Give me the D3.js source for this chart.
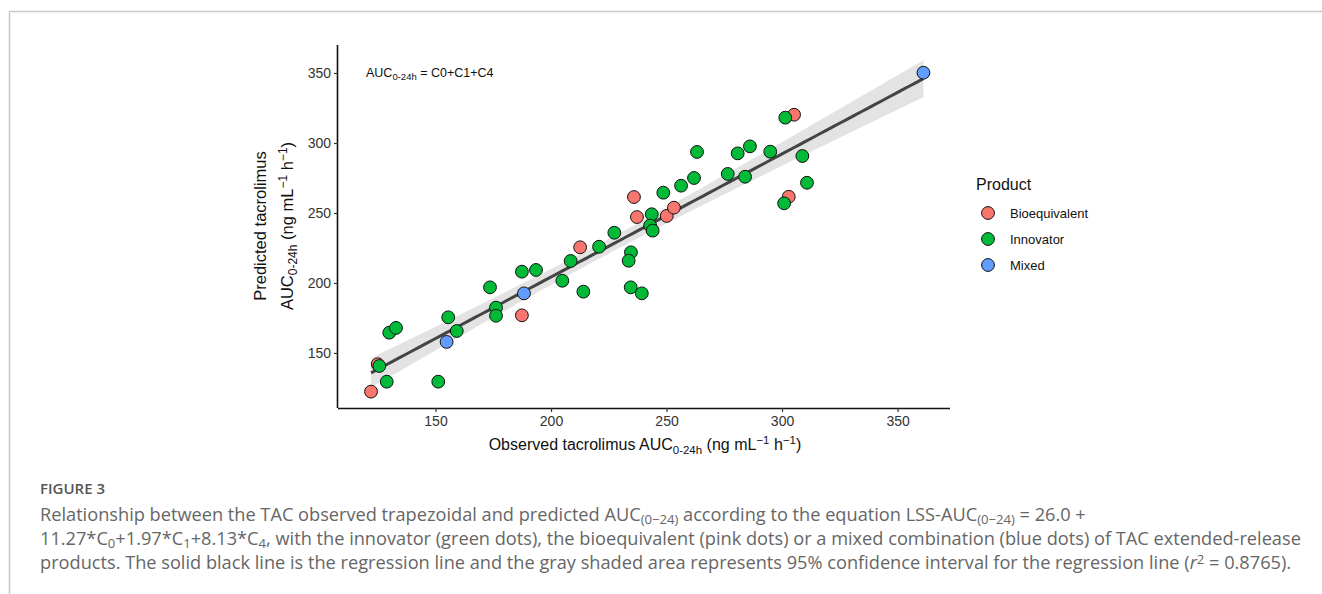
<!DOCTYPE html>
<html><head><meta charset="utf-8">
<script src="https://cdn.jsdelivr.net/npm/d3@7"></script>
<style>body{margin:0;background:#fff;}svg{display:block;}</style>
</head><body>
<script>
// ---- data ----
const products = ["Bioequivalent", "Innovator", "Mixed"];
const productColors = ["#F8766D", "#00BA38", "#619CFF"];
const observed = [122.1,125.0,187.4,212.6,235.9,237.2,250.1,253.2,302.9,305.2,
  125.7,128.9,130.0,132.9,151.2,155.5,159.2,173.6,176.2,176.2,187.4,193.5,204.9,208.5,214.0,220.8,227.4,234.6,233.6,234.5,239.3,
  243.6,242.9,244.0,248.6,256.3,261.9,263.2,276.5,280.8,284.0,286.1,294.9,300.9,301.4,308.8,310.8,
  154.8,188.3,361.2];
const predicted = [122.4,142.0,176.9,225.5,261.4,247.1,247.9,253.8,261.6,320.2,
  140.7,129.5,164.5,167.9,129.5,175.5,165.7,196.9,182.4,176.6,208.1,209.3,201.6,215.7,193.8,225.9,235.9,221.9,215.9,196.9,192.6,
  249.1,241.0,237.4,264.5,269.5,275.0,293.6,277.9,292.6,275.9,297.6,293.8,256.9,318.1,290.7,271.6,
  157.9,192.6,350.2];
const group = ["Bioequivalent","Bioequivalent","Bioequivalent","Bioequivalent","Bioequivalent","Bioequivalent","Bioequivalent","Bioequivalent","Bioequivalent","Bioequivalent",
  "Innovator","Innovator","Innovator","Innovator","Innovator","Innovator","Innovator","Innovator","Innovator","Innovator","Innovator","Innovator","Innovator","Innovator","Innovator","Innovator","Innovator","Innovator","Innovator","Innovator","Innovator",
  "Innovator","Innovator","Innovator","Innovator","Innovator","Innovator","Innovator","Innovator","Innovator","Innovator","Innovator","Innovator","Innovator","Innovator","Innovator","Innovator",
  "Mixed","Mixed","Mixed"];
const xTicks = [150, 200, 250, 300, 350];
const yTicks = [150, 200, 250, 300, 350];

(function(){
const W = 1322, H = 594;
const svg = d3.select("body").append("svg").attr("width", W).attr("height", H);
const FONT = "Liberation Sans, Arial, sans-serif";

// frame
svg.append("path").attr("d", `M9.5,${H} V11.5 H${W}`).attr("fill","none").attr("stroke","#c8c8c8").attr("stroke-width",1.5);

const pL = 338, pR = 950, pT = 45, pB = 408;
const x = d3.scaleLinear().domain([107.8, 372.7]).range([pL, pR]);
const y = d3.scaleLinear().domain([110.7, 370]).range([pB, pT]);
const color = d3.scaleOrdinal().domain(products).range(productColors);

// regression (OLS) + 95% CI
const data = observed.map((v,i)=>({x:v, y:predicted[i], g:group[i]}));
const n = data.length;
const mx = d3.mean(observed), my = d3.mean(predicted);
const sxx = d3.sum(observed, v=>(v-mx)*(v-mx));
const sxy = d3.sum(data, d=>(d.x-mx)*(d.y-my));
const b = sxy/sxx, a = my - b*mx;
const s = Math.sqrt(d3.sum(data, d=>Math.pow(d.y-(a+b*d.x),2))/(n-2));
const tval = 2.01;
const x0 = d3.min(observed), x1 = d3.max(observed);
const grid = d3.range(0, 81).map(i => x0 + (x1-x0)*i/80);
const band = grid.map(v => {
  const fit = a + b*v;
  const se = s*Math.sqrt(1/n + (v-mx)*(v-mx)/sxx);
  return {x:v, fit, lo: fit - tval*se, hi: fit + tval*se};
});
svg.append("path").datum(band)
  .attr("d", d3.area().x(d=>x(d.x)).y0(d=>y(d.lo)).y1(d=>y(d.hi)))
  .attr("fill", "#bdbdbd").attr("opacity", 0.42);
svg.append("path").datum(band)
  .attr("d", d3.line().x(d=>x(d.x)).y(d=>y(d.fit)))
  .attr("fill","none").attr("stroke","#444").attr("stroke-width",3);

// points
svg.append("g").selectAll("circle").data(data).join("circle")
  .attr("cx", d=>x(d.x)).attr("cy", d=>y(d.y)).attr("r", 6.4)
  .attr("fill", d=>color(d.g)).attr("stroke","#111").attr("stroke-width",1);

// axes
const xa = svg.append("g").attr("transform", `translate(0,${pB})`)
  .call(d3.axisBottom(x).tickValues(xTicks).tickSize(4).tickPadding(3).tickSizeOuter(0));
const ya = svg.append("g").attr("transform", `translate(${pL},0)`)
  .call(d3.axisLeft(y).tickValues(yTicks).tickSize(4).tickPadding(3).tickSizeOuter(0));
[xa, ya].forEach(g => {
  g.select(".domain").attr("stroke","#111").attr("stroke-width",1.6);
  g.selectAll(".tick line").attr("stroke","#333").attr("stroke-width",1.2);
  g.selectAll(".tick text").attr("fill","#333").style("font-family",FONT).style("font-size","14px");
});
xa.selectAll(".tick text").attr("dy","0.78em");
xa.select(".domain").attr("d", `M${pL},0.5H${pR}`);
ya.select(".domain").attr("d", `M-0.5,${pT}V${pB}`);

// annotation
const ann = svg.append("text").attr("x", 366).attr("y", 77).attr("fill","#111")
  .style("font-family",FONT).style("font-size","12.5px");
ann.append("tspan").text("AUC");
ann.append("tspan").attr("dy",3).style("font-size","9.5px").text("0-24h");
ann.append("tspan").attr("dy",-3).text(" = C0+C1+C4");

// x title
const xt = svg.append("text").attr("x", 645).attr("y", 450).attr("text-anchor","middle").attr("fill","#111")
  .style("font-family",FONT).style("font-size","16px");
xt.append("tspan").text("Observed tacrolimus AUC");
xt.append("tspan").attr("dy",4).style("font-size","11.5px").text("0-24h");
xt.append("tspan").attr("dy",-4).text(" (ng mL");
xt.append("tspan").attr("dy",-6).style("font-size","11.5px").text("−1");
xt.append("tspan").attr("dy",6).text(" h");
xt.append("tspan").attr("dy",-6).style("font-size","11.5px").text("−1");
xt.append("tspan").attr("dy",6).text(")");

// y title (two lines)
const yg = svg.append("g").attr("transform", "translate(266,226) rotate(-90)");
yg.append("text").attr("x",0).attr("y",0).attr("text-anchor","middle").attr("fill","#111")
  .style("font-family",FONT).style("font-size","16.5px").text("Predicted tacrolimus");
const yt2 = yg.append("text").attr("x",0).attr("y",27).attr("text-anchor","middle").attr("fill","#111")
  .style("font-family",FONT).style("font-size","16.5px");
yt2.append("tspan").text("AUC");
yt2.append("tspan").attr("dy",4).style("font-size","12px").text("0-24h");
yt2.append("tspan").attr("dy",-4).text(" (ng mL");
yt2.append("tspan").attr("dy",-6).style("font-size","12px").text("−1");
yt2.append("tspan").attr("dy",6).text(" h");
yt2.append("tspan").attr("dy",-6).style("font-size","12px").text("−1");
yt2.append("tspan").attr("dy",6).text(")");

// legend
svg.append("text").attr("x", 976).attr("y", 190).attr("fill","#111")
  .style("font-family",FONT).style("font-size","16px").text("Product");
const lg = svg.append("g").selectAll("g").data(products).join("g")
  .attr("transform",(d,i)=>`translate(988,${213 + i*26})`);
lg.append("circle").attr("r",6.4).attr("fill",d=>color(d)).attr("stroke","#111").attr("stroke-width",1);
lg.append("text").attr("x",22).attr("y",4.5).attr("fill","#111")
  .style("font-family",FONT).style("font-size","13px").text(d=>d);

// caption
const CF = "'Open Sans', Lato, sans-serif";
svg.append("text").attr("x", 40).attr("y", 494).attr("fill","#555")
  .style("font-family",CF).style("font-size","15px").style("font-weight","600").text("FIGURE 3");
const cap = svg.append("g").style("font-family",CF).style("font-size","16px").attr("fill","#666");
const SUB = "0.72em";
const l1 = cap.append("text").attr("x",40).attr("y",521);
l1.append("tspan").text("Relationship between the TAC observed trapezoidal and predicted AUC");
l1.append("tspan").attr("dy","0.25em").style("font-size",SUB).text("(0−24)");
l1.append("tspan").attr("dy","-0.18em").text(" according to the equation LSS-AUC");
l1.append("tspan").attr("dy","0.25em").style("font-size",SUB).text("(0−24)");
l1.append("tspan").attr("dy","-0.18em").text(" = 26.0 +");
const l2 = cap.append("text").attr("x",40).attr("y",545);
l2.append("tspan").text("11.27*C");
l2.append("tspan").attr("dy","0.25em").style("font-size",SUB).text("0");
l2.append("tspan").attr("dy","-0.18em").text("+1.97*C");
l2.append("tspan").attr("dy","0.25em").style("font-size",SUB).text("1");
l2.append("tspan").attr("dy","-0.18em").text("+8.13*C");
l2.append("tspan").attr("dy","0.25em").style("font-size",SUB).text("4");
l2.append("tspan").attr("dy","-0.18em").text(", with the innovator (green dots), the bioequivalent (pink dots) or a mixed combination (blue dots) of TAC extended-release");
const l3 = cap.append("text").attr("x",40).attr("y",569);
l3.append("tspan").text("products. The solid black line is the regression line and the gray shaded area represents 95% confidence interval for the regression line (");
l3.append("tspan").style("font-style","italic").text("r");
l3.append("tspan").attr("dy","-0.4em").style("font-size",SUB).text("2");
l3.append("tspan").attr("dy","0.29em").text(" = 0.8765).");
// fit caption width to the reference text block (line 2 spans x 40 → 1302)
const w2 = l2.node().getBBox().width;
if (w2 > 0) cap.style("font-size", (16 * 1262 / w2).toFixed(2) + "px");
})();
</script>
</body></html>
